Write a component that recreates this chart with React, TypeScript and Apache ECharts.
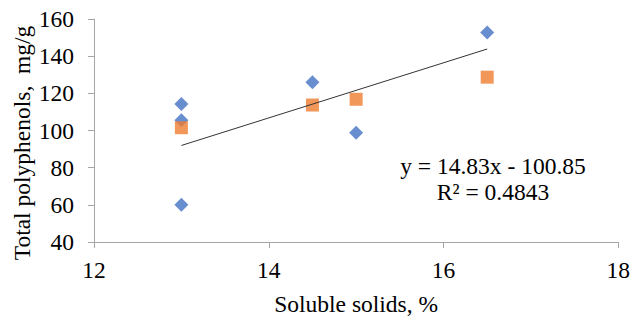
import React, { useEffect, useRef } from "react";
import * as echarts from "echarts";

// Series A (blue diamonds): [soluble solids %, total polyphenols mg/g]
const seriesA: [number, number][] = [
  [13, 114.2],
  [13, 105.5],
  [13, 60],
  [14.5, 126],
  [15, 98.8],
  [16.5, 152.7],
];
// Series B (orange squares)
const seriesB: [number, number][] = [
  [13, 101.5],
  [14.5, 113.7],
  [15, 116.8],
  [16.5, 128.7],
];
// Linear trendline endpoints (y = 14.83x - 100.85)
const trendLine: [number, number][] = [
  [13, 91.94],
  [16.5, 143.85],
];
const equationLines = ["y = 14.83x - 100.85", "R² = 0.4843"];
const xTitle = "Soluble solids, %";
const yTitle = "Total polyphenols,  mg/g";

const FONT = "'Liberation Serif', 'Times New Roman', serif";
const FS = 23.5;
const AXIS_GRAY = "#A6A6A6";

export default function App() {
  const ref = useRef<HTMLDivElement>(null);
  useEffect(() => {
    if (!ref.current) return;
    const chart = echarts.init(ref.current, null, { renderer: "svg" });
    chart.setOption({
      animation: false,
      backgroundColor: "#ffffff",
      grid: { left: 94, right: 13, top: 19, bottom: 73, containLabel: false },
      xAxis: {
        type: "value",
        min: 12,
        max: 18,
        interval: 2,
        name: xTitle,
        nameLocation: "middle",
        nameGap: 50,
        nameTextStyle: { fontFamily: FONT, fontSize: FS, color: "#000" },
        axisLine: { show: true, lineStyle: { color: AXIS_GRAY, width: 1 } },
        axisTick: { show: true, inside: false, length: 6, lineStyle: { color: AXIS_GRAY } },
        axisLabel: { margin: 16, fontFamily: FONT, fontSize: FS, color: "#000" },
        splitLine: { show: false },
      },
      yAxis: {
        type: "value",
        min: 40,
        max: 160,
        interval: 20,
        axisLine: { show: true, lineStyle: { color: AXIS_GRAY, width: 1 } },
        axisTick: { show: true, inside: false, length: 6, lineStyle: { color: AXIS_GRAY } },
        axisLabel: { margin: 20, fontFamily: FONT, fontSize: FS, color: "#000" },
        splitLine: { show: false },
      },
      graphic: [
        {
          type: "text",
          x: 22,
          y: 143,
          rotation: Math.PI / 2,
          style: { text: yTitle, fontFamily: FONT, fontSize: FS, fill: "#000", align: "center", verticalAlign: "middle" },
        },
        {
          type: "text",
          x: 493,
          y: 166,
          style: { text: equationLines[0], fontFamily: FONT, fontSize: FS, fill: "#000", align: "center", verticalAlign: "middle" },
        },
        {
          type: "text",
          x: 493,
          y: 192,
          style: { text: equationLines[1], fontFamily: FONT, fontSize: FS, fill: "#000", align: "center", verticalAlign: "middle" },
        },
      ],
      series: [
        { type: "scatter", data: seriesA, symbol: "diamond", symbolSize: 14, itemStyle: { color: "#4472C4" }, z: 2 },
        { type: "scatter", data: seriesB, symbol: "rect", symbolSize: 13, itemStyle: { color: "#ED7D31" }, z: 3 },
        { type: "line", data: trendLine, symbol: "none", lineStyle: { color: "#333", width: 1 }, z: 4 },
      ],
    });
    return () => chart.dispose();
  }, []);
  return <div ref={ref} style={{ width: 633, height: 321, position: "absolute", left: 0, top: 0 }} />;
}
